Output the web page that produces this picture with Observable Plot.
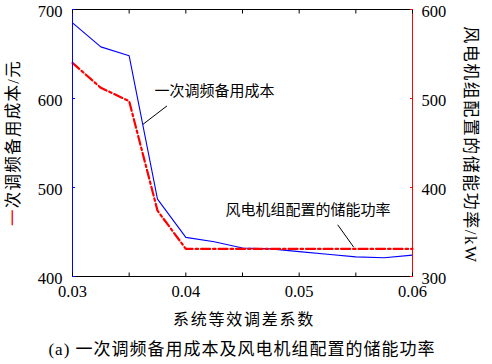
<!DOCTYPE html>
<html><head><meta charset="utf-8">
<script src="https://cdn.jsdelivr.net/npm/d3@7"></script>
<script src="https://cdn.jsdelivr.net/npm/@observablehq/plot@0.6"></script>
<style>body{margin:0;background:#fff}</style>
</head><body><div id="chart"></div>
<script>
// x: 系统等效调差系数
const xs = [0.03, 0.0325, 0.035, 0.0375, 0.04, 0.0425, 0.045, 0.0475, 0.05, 0.0525, 0.055, 0.0575, 0.06];
// 一次调频备用成本/元 (left axis)
const cost = [685, 658, 648, 487, 444, 439, 432, 431, 428, 425, 422, 421, 424];
// 风电机组配置的储能功率/kW (right axis)
const power = [540, 512, 497, 374, 331, 331, 331, 331, 331, 331, 331, 331, 331];

const xTicks = [0.03, 0.035, 0.04, 0.045, 0.05, 0.055, 0.06];
const xLabels = [0.03, 0.04, 0.05, 0.06];
const leftTicks = [400, 500, 600, 700];
const rightTicks = [300, 400, 500, 600];
const rightOffset = 100; // right axis value + 100 = left axis value

const notes = [
  {x: 0.03724, y: 608.5, text: "一次调频备用成本"},
  {x: 0.04350, y: 475, text: "风电机组配置的储能功率"}
];
const leaders = [
  {x1: 0.03834, y1: 591.7, x2: 0.03622, y2: 571},
  {x1: 0.05340, y1: 458.1, x2: 0.05481, y2: 433}
];

const rows = xs.map((x, i) => ({x, cost: cost[i], power: power[i] + rightOffset}));
const fmt = d3.format(".2f");

const plot = Plot.plot({
  width: 492, height: 364,
  marginLeft: 72, marginRight: 80, marginTop: 9, marginBottom: 88,
  style: {fontFamily: "'Liberation Serif', 'Noto Sans CJK SC'", fontSize: "16.5px", color: "black", background: "white"},
  x: {domain: [0.03, 0.06]},
  y: {domain: [400, 700]},
  marks: [
    Plot.line(rows, {x: "x", y: "cost", stroke: "#0000ff", strokeWidth: 1.1}),
    Plot.line(rows, {x: "x", y: "power", stroke: "#ff0000", strokeWidth: 2.2, strokeDasharray: "9,3,2.5,3"}),
    Plot.ruleY([400], {stroke: "black"}),
    Plot.ruleY([700], {stroke: "black"}),
    Plot.ruleX([0.03], {stroke: "#0000ff"}),
    Plot.ruleX([0.06], {stroke: "#ff0000"}),
    Plot.axisX({ticks: xTicks, anchor: "bottom", tickSize: -3.5, tickPadding: 0, tickFormat: () => "", label: null}),
    Plot.axisX({ticks: xTicks, anchor: "top", tickSize: -3.5, tickPadding: 0, tickFormat: () => "", label: null}),
    Plot.axisX({ticks: xLabels, anchor: "bottom", tickSize: 0, tickPadding: 9, tickFormat: fmt, label: null}),
    Plot.axisY({ticks: leftTicks, anchor: "left", tickSize: -3, stroke: "#0000ff", tickFormat: () => "", label: null}),
    Plot.axisY({ticks: leftTicks, anchor: "left", tickSize: 0, tickPadding: 10, dy: 2.5, label: null}),
    Plot.axisY({ticks: rightTicks.map(d => d + rightOffset), anchor: "right", tickSize: -3, stroke: "#ff0000", tickFormat: () => "", label: null}),
    Plot.axisY({ticks: rightTicks.map(d => d + rightOffset), anchor: "right", tickSize: 0, tickPadding: 9, dy: 2.5, tickFormat: d => String(d - rightOffset), label: null}),
    Plot.link(leaders, {x1: "x1", y1: "y1", x2: "x2", y2: "y2", stroke: "black", strokeWidth: 1}),
    Plot.text(notes, {x: "x", y: "y", text: "text", textAnchor: "start", lineAnchor: "middle", fontFamily: "Noto Sans CJK SC", fontSize: 15, fill: "black"})
  ]
});
document.getElementById("chart").appendChild(plot);

const svg = d3.select(plot);
const cjk = "'Liberation Serif', 'Noto Sans CJK SC'";
// x-axis title
svg.append("text").attr("x", 244).attr("y", 325).attr("text-anchor", "middle")
  .attr("font-family", cjk).attr("font-size", 16).attr("letter-spacing", 1.75)
  .attr("fill", "black").text("系统等效调差系数");
// caption
svg.append("text").attr("x", 242).attr("y", 355).attr("text-anchor", "middle")
  .attr("font-family", cjk).attr("font-size", 17).attr("letter-spacing", 1)
  .attr("fill", "black").text("(a) 一次调频备用成本及风电机组配置的储能功率");
// left title
const lt = svg.append("text").attr("transform", "translate(19,143) rotate(-90)").attr("text-anchor", "middle")
  .attr("font-family", cjk).attr("font-size", 16.5).attr("letter-spacing", 1.3).attr("fill", "black");
lt.append("tspan").attr("fill", "#ff0000").text("一");
lt.append("tspan").text("次调频备用成本/元");
// right title
svg.append("text").attr("transform", "translate(465,145) rotate(90)").attr("text-anchor", "middle")
  .attr("font-family", cjk).attr("font-size", 17).attr("letter-spacing", 1.5)
  .attr("fill", "black").text("风电机组配置的储能功率/kW");
</script>
</body></html>
